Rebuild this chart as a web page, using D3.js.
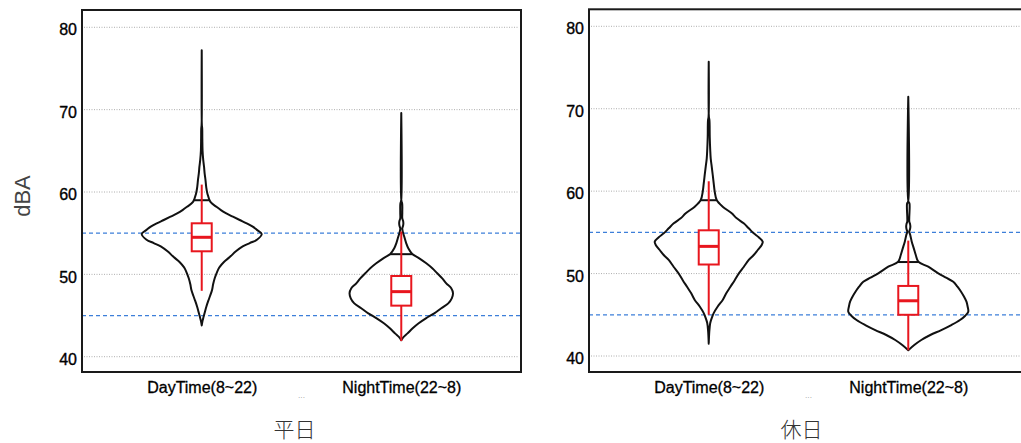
<!DOCTYPE html>
<html>
<head>
<meta charset="utf-8">
<script src="https://cdn.jsdelivr.net/npm/d3@7"></script>
<style>
  body { margin: 0; background: #fff; }
  text { font-family: "Liberation Sans", Arial, sans-serif; }
</style>
</head>
<body>
<script>
// categories / panels
const groups = ["DayTime(8~22)", "NightTime(22~8)"];
const panelTitles = ["平日", "休日"];
const yTicks = [40, 50, 60, 70, 80];
const refLines = [45, 55];

// violin outlines: [dBA, relative density]
const weekdayDayDensity = [
  [43.8, 0], [44.3, 0.012], [44.9, 0.033], [45.5, 0.055], [46.1, 0.078], [46.8, 0.11],
  [47.4, 0.14], [48.1, 0.172], [48.8, 0.19], [49.5, 0.215], [50.1, 0.245], [50.6, 0.275],
  [50.9, 0.3], [51.5, 0.37], [52.1, 0.467], [52.8, 0.57], [53.4, 0.683], [53.8, 0.8],
  [54.2, 0.92], [54.9, 1.0], [55.4, 0.92], [55.8, 0.85], [56.2, 0.75], [56.6, 0.633],
  [57.0, 0.52], [57.4, 0.41], [57.8, 0.32], [58.2, 0.245], [58.8, 0.145], [59.8, 0.095],
  [60.6, 0.075], [61.5, 0.062], [62.3, 0.048], [63.1, 0.038], [63.9, 0.025], [65.0, 0.014],
  [66.5, 0.01], [67.7, 0.008], [68.2, 0.002], [77.2, 0]
];
const weekdayNightDensity = [
  [42.0, 0], [42.4, 0.04], [42.8, 0.1], [43.45, 0.19], [44.06, 0.29], [44.66, 0.41],
  [45.27, 0.55], [45.88, 0.667], [46.48, 0.783], [47.09, 0.842], [47.7, 0.862], [48.31, 0.833],
  [48.91, 0.75], [49.52, 0.683], [50.13, 0.6], [50.74, 0.517], [51.34, 0.417], [51.95, 0.3],
  [52.47, 0.183], [53.16, 0.117], [53.77, 0.083], [54.57, 0.05], [55.18, 0.025], [55.6, 0.017],
  [55.9, 0.03], [56.2, 0.035], [56.5, 0.03], [56.8, 0.017], [57.5, 0.017], [58.6, 0.015],
  [58.9, 0.003], [69.6, 0]
];
const weekendDayDensity = [
  [41.5, 0], [43.0, 0.01], [44.0, 0.025], [44.6, 0.05], [45.2, 0.083], [46.0, 0.15],
  [46.8, 0.233], [47.6, 0.292], [48.4, 0.362], [49.2, 0.433], [50.0, 0.5], [50.8, 0.583],
  [51.65, 0.667], [52.25, 0.75], [52.86, 0.817], [53.47, 0.883], [53.87, 0.9], [54.4, 0.833],
  [54.88, 0.75], [55.49, 0.667], [56.1, 0.583], [56.7, 0.467], [57.31, 0.383], [58.12, 0.233],
  [58.93, 0.133], [59.93, 0.1], [60.95, 0.083], [61.96, 0.067], [62.97, 0.05], [63.98, 0.033],
  [65.0, 0.025], [66.6, 0.017], [68.6, 0.012], [69.0, 0.003], [75.7, 0]
];
const weekendNightDensity = [
  [40.7, 0], [41.33, 0.1], [41.94, 0.217], [42.55, 0.367], [43.15, 0.55], [43.76, 0.717],
  [44.37, 0.862], [44.89, 0.95], [45.37, 1.0], [45.98, 0.99], [46.59, 0.97], [47.19, 0.93],
  [47.8, 0.88], [48.41, 0.82], [49.0, 0.75], [49.5, 0.63], [50.03, 0.5], [50.83, 0.333],
  [51.44, 0.167], [52.25, 0.125], [53.06, 0.092], [53.87, 0.058], [54.68, 0.033], [55.08, 0.017],
  [55.4, 0.03], [55.7, 0.035], [56.0, 0.03], [56.3, 0.017], [58.5, 0.02], [58.7, 0.004],
  [71.46, 0]
];

// box stats: [whisker low, q1, median, q3, whisker high]
const weekdayBoxes = [[48.0, 52.8, 54.5, 56.2, 60.9], [41.9, 46.2, 47.9, 49.8, 55.2]];
const weekendBoxes = [[45.0, 51.1, 53.3, 55.25, 61.2], [40.7, 45.0, 46.7, 48.5, 54.0]];
// black cross line inside each violin
const weekdayMarks = [59.0, 52.45];
const weekendMarks = [58.9, 51.4];

const W = 1021, H = 443;
const panelW = 439;
const layouts = [
  { left: 82, top: 10, bottom: 372, yTop: 27.3, yBottom: 356.7 },
  { left: 589, top: 9.3, bottom: 372, yTop: 26.3, yBottom: 356 }
];
const panelData = [
  { densities: [weekdayDayDensity, weekdayNightDensity], boxes: weekdayBoxes, marks: weekdayMarks },
  { densities: [weekendDayDensity, weekendNightDensity], boxes: weekendBoxes, marks: weekendMarks }
];

const svg = d3.select("body").append("svg").attr("width", W).attr("height", H);

const w = d3.scaleLinear().domain([0, 1]).range([0, 60]);
const red = "#e8161e";

panelData.forEach((pd, i) => {
  const L = layouts[i];
  const g = svg.append("g");
  const x = d3.scalePoint().domain(groups).range([L.left, L.left + panelW]).padding(0.6);
  const y = d3.scaleLinear().domain([40, 80]).range([L.yBottom, L.yTop]);

  // grid
  g.selectAll(".grid").data(yTicks).join("line")
    .attr("x1", L.left + 2).attr("x2", L.left + panelW - 2)
    .attr("y1", d => y(d)).attr("y2", d => y(d))
    .attr("stroke", "#999").attr("stroke-width", 0.8).attr("stroke-dasharray", "1,1.5");

  // reference lines
  g.selectAll(".ref").data(refLines).join("line")
    .attr("x1", L.left).attr("x2", L.left + panelW)
    .attr("y1", d => y(d)).attr("y2", d => y(d))
    .attr("stroke", "#3d7fd9").attr("stroke-width", 1.3).attr("stroke-dasharray", "4,3");

  // violins
  groups.forEach((grp, j) => {
    const cx = x(grp);
    const prof = pd.densities[j];
    const area = d3.area()
      .y(d => y(d[0]))
      .x0(d => cx - w(d[1]))
      .x1(d => cx + w(d[1]))
      .curve(d3.curveCatmullRom);
    g.append("path").attr("d", area(prof))
      .attr("fill", "none").attr("stroke", "#111").attr("stroke-width", 2)
      .attr("stroke-linejoin", "round");

    const dens = d3.scaleLinear().domain(prof.map(d => d[0])).range(prof.map(d => d[1]));
    const mv = pd.marks[j];
    g.append("line")
      .attr("x1", cx - w(dens(mv))).attr("x2", cx + w(dens(mv)))
      .attr("y1", y(mv)).attr("y2", y(mv))
      .attr("stroke", "#111").attr("stroke-width", 2);

    const b = pd.boxes[j];
    g.append("line").attr("x1", cx).attr("x2", cx)
      .attr("y1", y(b[0])).attr("y2", y(b[4]))
      .attr("stroke", red).attr("stroke-width", 2);
    g.append("rect")
      .attr("x", cx - 10).attr("width", 20)
      .attr("y", y(b[3])).attr("height", y(b[1]) - y(b[3]))
      .attr("fill", "#fff").attr("stroke", red).attr("stroke-width", 2);
    g.append("line").attr("x1", cx - 10).attr("x2", cx + 10)
      .attr("y1", y(b[2])).attr("y2", y(b[2]))
      .attr("stroke", red).attr("stroke-width", 3);
  });

  // axes
  const ya = g.append("g").attr("transform", `translate(${L.left},0)`)
    .call(d3.axisLeft(y).tickValues(yTicks).tickSize(0).tickPadding(5));
  ya.select(".domain").remove();
  ya.selectAll("text").attr("dy", "0.48em").attr("font-size", 16).attr("fill", "#000")
    .attr("stroke", "#000").attr("stroke-width", 0.35)
    .style("font-family", "'Liberation Sans', Arial, sans-serif");

  const xa = g.append("g").attr("transform", `translate(0,${L.bottom})`)
    .call(d3.axisBottom(x).tickSize(0).tickPadding(10));
  xa.select(".domain").remove();
  xa.selectAll("text").attr("font-size", 16).attr("fill", "#000")
    .attr("stroke", "#000").attr("stroke-width", 0.3)
    .style("font-family", "'Liberation Sans', Arial, sans-serif");

  // frame
  g.append("rect")
    .attr("x", L.left).attr("y", L.top)
    .attr("width", panelW).attr("height", L.bottom - L.top)
    .attr("fill", "none").attr("stroke", "#1a1a1a").attr("stroke-width", 2);

  // little axis-name mark and panel title
  g.append("text").attr("x", L.left + panelW / 2).attr("y", 400)
    .attr("text-anchor", "middle").attr("font-size", 7).attr("fill", "#888").text("···");
  g.append("text").attr("x", L.left + panelW / 2 - 7).attr("y", 428)
    .attr("text-anchor", "middle").attr("dominant-baseline", "central")
    .attr("font-size", 21).attr("fill", "#333")
    .style("font-family", "'Noto Sans CJK JP', 'Noto Sans CJK SC', sans-serif")
    .style("font-weight", 300)
    .text(panelTitles[i]);
});

svg.append("text")
  .attr("transform", "translate(22,196) rotate(-90)")
  .attr("text-anchor", "middle").attr("dominant-baseline", "central")
  .attr("font-size", 22).attr("fill", "#444")
  .text("dBA");
</script>
</body>
</html>
